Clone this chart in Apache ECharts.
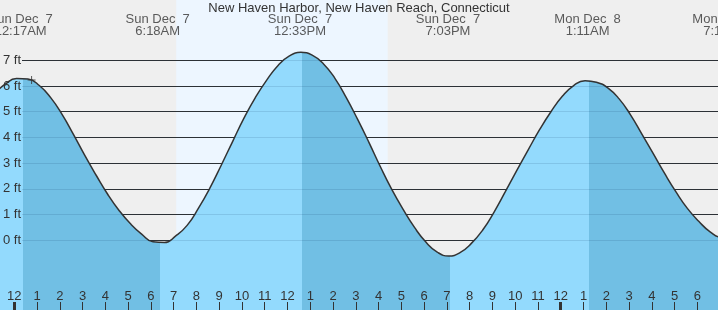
<!DOCTYPE html>
<html><head><meta charset="utf-8">
<script src="https://cdn.jsdelivr.net/npm/echarts@6/dist/echarts.min.js"></script>
<style>html,body{margin:0;padding:0;background:#efefef}#c{width:718px;height:310px}</style>
</head><body><div id="c"></div>
<script>
// ---- data ----
const chartTitle = 'New Haven Harbor, New Haven Reach, Connecticut';
// hours since midnight Sun Dec 7 (half-hour readings)
const tideHours = [-1, -0.5, 0, 0.5, 1, 1.5, 2, 2.5, 3, 3.5, 4, 4.5, 5, 5.5, 6, 6.5, 7, 7.5, 8, 8.5, 9, 9.5, 10, 10.5, 11, 11.5, 12, 12.5, 13, 13.5, 14, 14.5, 15, 15.5, 16, 16.5, 17, 17.5, 18, 18.5, 19, 19.5, 20, 20.5, 21, 21.5, 22, 22.5, 23, 23.5, 24, 24.5, 25, 25.5, 26, 26.5, 27, 27.5, 28, 28.5, 29, 29.5, 30, 30.5, 31, 31.5, 32];
const tideFeet  = [5.67, 6.07, 6.29, 6.27, 6.02, 5.55, 4.9, 4.12, 3.3, 2.53, 1.8, 1.17, 0.65, 0.24, -0.06, -0.09, 0.17, 0.58, 1.25, 2.03, 2.92, 3.84, 4.75, 5.55, 6.23, 6.8, 7.17, 7.31, 7.2, 6.86, 6.3, 5.55, 4.7, 3.8, 2.86, 1.98, 1.2, 0.5, -0.07, -0.46, -0.61, -0.48, -0.12, 0.4, 1.1, 1.9, 2.72, 3.52, 4.3, 5.0, 5.6, 6.02, 6.21, 6.15, 5.93, 5.5, 4.88, 4.13, 3.37, 2.6, 1.88, 1.24, 0.74, 0.33, 0.12, 0.14, 0.3];
const extremeTimes = [0.283, 6.3, 12.55, 19.05, 25.18, 31.24];
const extremeType  = ['H', 'L', 'H', 'L', 'H', 'L'];
const extremeDates = ['Sun Dec  7', 'Sun Dec  7', 'Sun Dec  7', 'Sun Dec  7', 'Mon Dec  8', 'Mon Dec  8'];
const extremeClock = ['12:17AM', '6:18AM', '12:33PM', '7:03PM', '1:11AM', '7:14AM'];
const daylight = [7.02, 16.32];
const nowPoint = [0.66, 6.23];
const feetTicks = [0, 1, 2, 3, 4, 5, 6, 7];
const hourTicks = [0,1,2,3,4,5,6,7,8,9,10,11,12,13,14,15,16,17,18,19,20,21,22,23,24,25,26,27,28,29,30];
const hourLabels = ['12','1','2','3','4','5','6','7','8','9','10','11','12','1','2','3','4','5','6','7','8','9','10','11','12','1','2','3','4','5','6'];
const midnights = [0, 24];

// ---- layout / style ----
const xMin = -0.685, xMax = 30.847, yMin = -2.711, yMax = 9.346;
const tickShift = 0.06;
const FONT = '"Liberation Sans", Arial, sans-serif';
const TXT = '#333';
const LIGHT = '#93dafd', DARK = '#71bfe4', DAY = '#edf6ff', BG = '#efefef';

const chart = echarts.init(document.getElementById('c'), null, { renderer: 'canvas' });
const full = { left: 0, right: 0, top: 0, bottom: 0 };
const hiddenY = g => ({ gridIndex: g, type: 'value', min: 0, max: 1, show: false });
chart.setOption({
  animation: false,
  backgroundColor: BG,
  title: { text: chartTitle, left: 'center', top: 2, padding: 0,
    textStyle: { fontSize: 13, fontWeight: 'normal', color: TXT, fontFamily: FONT } },
  grid: [
    Object.assign({}, full),
    { left: 22, right: 0, top: 0, bottom: 0 },
    Object.assign({}, full),
    Object.assign({}, full)
  ],
  xAxis: [
    { gridIndex: 0, type: 'value', min: xMin, max: xMax, show: false },
    { gridIndex: 1, type: 'value', min: 0, max: 1, show: false },
    { gridIndex: 2, type: 'value', min: xMin + tickShift, max: xMax + tickShift, position: 'bottom', z: 5,
      axisLine: { show: false }, splitLine: { show: false },
      axisTick: { show: true, inside: true, length: 8, customValues: hourTicks, lineStyle: { color: TXT, width: 1 } },
      axisLabel: { show: true, inside: true, margin: 7, customValues: hourTicks,
        formatter: v => hourLabels[hourTicks.indexOf(Math.round(v))],
        fontSize: 13, color: TXT, fontFamily: FONT } },
    { gridIndex: 3, type: 'value', min: xMin + tickShift, max: xMax + tickShift, position: 'bottom', z: 5,
      axisLine: { show: false }, splitLine: { show: false }, axisLabel: { show: false },
      axisTick: { show: true, inside: true, length: 8, customValues: midnights, lineStyle: { color: TXT, width: 3 } } }
  ],
  yAxis: [
    { gridIndex: 0, type: 'value', min: yMin, max: yMax, z: 6,
      axisLine: { show: false }, axisTick: { show: false }, splitLine: { show: false },
      axisLabel: { show: true, inside: true, margin: 2, customValues: feetTicks,
        formatter: v => v + ' ft', fontSize: 13, color: TXT, fontFamily: FONT } },
    { gridIndex: 1, type: 'value', min: yMin, max: yMax, z: 1,
      axisLine: { show: false }, axisLabel: { show: false },
      axisTick: { show: false, customValues: feetTicks },
      splitLine: { show: true, lineStyle: { color: '#333', width: 1 } } },
    { gridIndex: 1, type: 'value', min: yMin, max: yMax, z: 3, position: 'right',
      axisLine: { show: false }, axisLabel: { show: false },
      axisTick: { show: false, customValues: feetTicks },
      splitLine: { show: true, lineStyle: { color: 'rgba(0,40,80,0.12)', width: 1 } } },
    hiddenY(2),
    hiddenY(3)
  ],
  series: [
    { type: 'line', xAxisIndex: 0, yAxisIndex: 0, z: 0, silent: true, symbol: 'none',
      data: [[daylight[0], yMax], [daylight[1], yMax]],
      lineStyle: { width: 0 }, areaStyle: { color: DAY, opacity: 1, origin: 'start' } },
    { type: 'line', xAxisIndex: 0, yAxisIndex: 0, z: 2, silent: true, smooth: true, symbol: 'none',
      data: tideHours.map((h, i) => [h, tideFeet[i]]),
      lineStyle: { color: '#333', width: 1.5 },
      areaStyle: { color: LIGHT, opacity: 1, origin: 'start' } },
    { type: 'scatter', xAxisIndex: 2, yAxisIndex: 3, z: 6, silent: true, clip: false, symbolSize: 0,
      data: extremeTimes.map(t => [t, 1]),
      label: { show: true, position: 'bottom', distance: 13, align: 'center',
        formatter: p => extremeDates[p.dataIndex] + '\n' + extremeClock[p.dataIndex],
        fontSize: 13, lineHeight: 12, color: TXT, fontFamily: FONT } },
    { type: 'scatter', xAxisIndex: 0, yAxisIndex: 0, z: 6, silent: true,
      symbol: 'path://M0,3.5h8v1h-8z M3.5,0h1v8h-1z', symbolSize: 8,
      itemStyle: { color: '#333' }, data: [nowPoint] }
  ]
});

// Falling tide (high -> next low) is shaded darker: hard-stop gradient built from the extreme times.
const W = chart.getWidth();
const stops = [];
let prevColor = extremeType[0] === 'H' ? LIGHT : DARK;
stops.push({ offset: 0, color: prevColor });
extremeTimes.forEach((t, i) => {
  const px = chart.convertToPixel({ xAxisIndex: 0 }, t);
  const f = Math.max(0, Math.min(1, px / W));
  const next = extremeType[i] === 'H' ? DARK : LIGHT;
  stops.push({ offset: f, color: prevColor });
  stops.push({ offset: f, color: next });
  prevColor = next;
});
stops.push({ offset: 1, color: prevColor });
chart.setOption({ series: [{}, {
  areaStyle: { color: new echarts.graphic.LinearGradient(0, 0, W, 0, stops, true), opacity: 1, origin: 'start' }
}] });
</script>
</body></html>
